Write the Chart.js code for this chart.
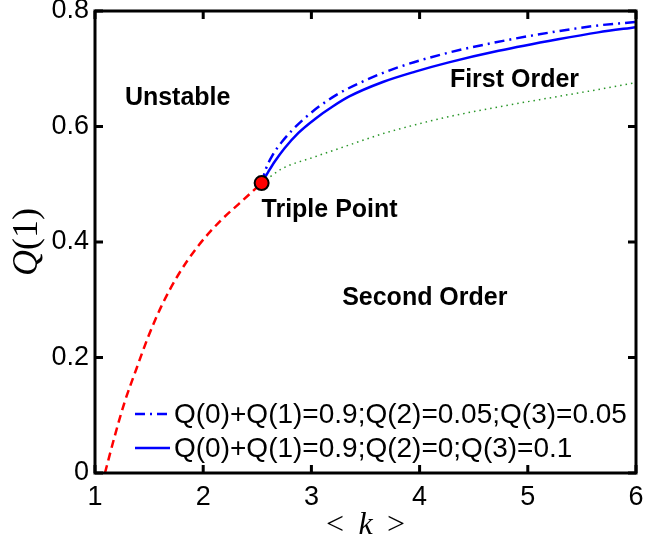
<!DOCTYPE html>
<html>
<head>
<meta charset="utf-8">
<script src="https://cdn.jsdelivr.net/npm/chart.js@4.4.0/dist/chart.umd.min.js"></script>
<style>
html,body{margin:0;padding:0;background:#fff;}
#wrap{width:645px;height:543px;position:relative;}
</style>
</head>
<body>
<div id="wrap"><canvas id="c"></canvas></div>
<script>
// ---- data ----
const xTicks = [1, 2, 3, 4, 5, 6];
const yTicks = [0, 0.2, 0.4, 0.6, 0.8];

const kRed = [1.092, 1.184, 1.276, 1.384, 1.49, 1.614, 1.766, 1.94, 2.15, 2.335, 2.54];
const qRed = [0, 0.065, 0.124, 0.181, 0.235, 0.289, 0.342, 0.39, 0.435, 0.467, 0.502];

const kSolid = [2.54, 2.6, 2.66, 2.75, 2.88, 3.04, 3.2, 3.35, 3.66, 3.96, 4.27, 4.73, 5.28, 5.65, 6.0];
const qSolid = [0.502, 0.521, 0.539, 0.562, 0.589, 0.614, 0.635, 0.652, 0.677, 0.695, 0.711, 0.731, 0.751, 0.763, 0.772];

const kDash = [2.54, 2.58, 2.64, 2.73, 2.93, 3.19, 3.5, 3.81, 4.27, 4.82, 5.28, 5.65, 6.0];
const qDash = [0.502, 0.527, 0.55, 0.574, 0.613, 0.65, 0.68, 0.703, 0.728, 0.75, 0.765, 0.775, 0.781];

const kGreen = [2.54, 2.73, 3.04, 3.35, 3.65, 3.96, 4.27, 4.73, 5.28, 5.65, 6.0];
const qGreen = [0.502, 0.527, 0.548, 0.568, 0.587, 0.603, 0.617, 0.634, 0.652, 0.664, 0.676];

const kTriple = [2.54];
const qTriple = [0.502];

const labelDash = 'Q(0)+Q(1)=0.9;Q(2)=0.05;Q(3)=0.05';
const labelSolid = 'Q(0)+Q(1)=0.9;Q(2)=0;Q(3)=0.1';

const notes = [
  {text: 'Unstable', k: 1.764, q: 0.650},
  {text: 'First Order', k: 4.877, q: 0.680},
  {text: 'Triple Point', k: 3.168, q: 0.455},
  {text: 'Second Order', k: 4.048, q: 0.302}
];

const pts = (xs, ys) => xs.map((x, i) => ({x: x, y: ys[i]}));

const framePlugin = {
  id: 'frame',
  afterDraw(chart) {
    const ctx = chart.ctx;
    const a = chart.chartArea;
    const xs = chart.scales.x, ys = chart.scales.y;
    ctx.save();
    ctx.strokeStyle = '#000';
    ctx.lineWidth = 3;
    ctx.lineCap = 'butt';
    const tl = 8;
    ctx.beginPath();
    xs.ticks.forEach(t => {
      const px = xs.getPixelForValue(t.value);
      ctx.moveTo(px, a.bottom); ctx.lineTo(px, a.bottom - tl);
      ctx.moveTo(px, a.top); ctx.lineTo(px, a.top + tl);
    });
    ys.ticks.forEach(t => {
      const py = ys.getPixelForValue(t.value);
      ctx.moveTo(a.left, py); ctx.lineTo(a.left + tl, py);
      ctx.moveTo(a.right, py); ctx.lineTo(a.right - tl, py);
    });
    ctx.stroke();
    ctx.lineJoin = 'miter';
    ctx.strokeRect(a.left, a.top, a.right - a.left, a.bottom - a.top);

    // annotations
    ctx.fillStyle = '#000';
    ctx.font = 'bold 25px "Liberation Sans", Arial, sans-serif';
    ctx.textAlign = 'center';
    ctx.textBaseline = 'middle';
    notes.forEach(n => {
      ctx.fillText(n.text, xs.getPixelForValue(n.k), ys.getPixelForValue(n.q));
    });

    // legend
    const legendItems = [chart.data.datasets[1], chart.data.datasets[2]];
    const rows = [414, 448];
    ctx.font = '28px "Liberation Sans", Arial, sans-serif';
    ctx.textAlign = 'left';
    legendItems.forEach((ds, i) => {
      const y = rows[i];
      ctx.save();
      ctx.strokeStyle = ds.borderColor;
      ctx.lineWidth = ds.borderWidth;
      ctx.setLineDash(ds.borderDash || []);
      ctx.beginPath();
      ctx.moveTo(135, y); ctx.lineTo(170, y);
      ctx.stroke();
      ctx.restore();
      ctx.fillStyle = '#000';
      ctx.fillText(ds.label, 174, y + 1);
    });

    // x axis title: < k >
    const serif = '"Liberation Serif", "Times New Roman", serif';
    const up = '32px ' + serif, it = 'italic 32px ' + serif;
    const parts = [['<', up], ['\u2009 ', up], ['k', it], [' \u2009', up], ['>', up]];
    let w = 0;
    parts.forEach(p => { ctx.font = p[1]; w += ctx.measureText(p[0]).width; });
    let x = (a.left + a.right) / 2 - w / 2;
    ctx.textBaseline = 'alphabetic';
    parts.forEach(p => { ctx.font = p[1]; ctx.fillText(p[0], x, 534); x += ctx.measureText(p[0]).width; });

    // y axis title: Q(1)
    ctx.save();
    ctx.translate(37, 242);
    ctx.rotate(-Math.PI / 2);
    const yp = [['Q', 'italic 36px ' + serif], ['(1)', '36px ' + serif]];
    w = 0;
    yp.forEach(p => { ctx.font = p[1]; w += ctx.measureText(p[0]).width; });
    x = -w / 2;
    yp.forEach(p => { ctx.font = p[1]; ctx.fillText(p[0], x, 0); x += ctx.measureText(p[0]).width; });
    ctx.restore();
    ctx.restore();
  }
};

new Chart(document.getElementById('c'), {
  type: 'line',
  data: {
    datasets: [
      {label: 'Triple Point', data: pts(kTriple, qTriple), showLine: false,
       pointRadius: 7, pointBackgroundColor: '#ff0000', pointBorderColor: '#000', pointBorderWidth: 2},
      {label: labelDash, data: pts(kDash, qDash), borderColor: '#0000ff', borderWidth: 2.5,
       borderDash: [10, 5, 2, 5], pointRadius: 0, cubicInterpolationMode: 'monotone'},
      {label: labelSolid, data: pts(kSolid, qSolid), borderColor: '#0000ff', borderWidth: 2.5,
       pointRadius: 0, cubicInterpolationMode: 'monotone'},
      {label: 'second order line', data: pts(kGreen, qGreen), borderColor: 'rgb(40,150,40)', borderWidth: 1.5,
       borderDash: [1.5, 4], pointRadius: 0, cubicInterpolationMode: 'monotone'},
      {label: 'unstable boundary', data: pts(kRed, qRed), borderColor: '#ff0000', borderWidth: 2.5,
       borderDash: [8, 5], pointRadius: 0, cubicInterpolationMode: 'monotone'}
    ]
  },
  options: {
    responsive: true,
    maintainAspectRatio: false,
    animation: false,
    layout: {padding: {left: 0, right: 7, top: 11, bottom: 0}},
    plugins: {legend: {display: false}, tooltip: {enabled: false}},
    scales: {
      x: {
        type: 'linear', min: 1, max: 6,
        afterBuildTicks: s => { s.ticks = xTicks.map(v => ({value: v})); },
        afterFit: s => { s.height = 70; s.paddingLeft = 0; s.paddingRight = 0; },
        grid: {display: false, drawTicks: false},
        border: {display: false},
        ticks: {padding: 8, color: '#000', font: {family: '"Liberation Sans", Arial, sans-serif', size: 27},
                callback: v => String(v)}
      },
      y: {
        type: 'linear', min: 0, max: 0.8,
        afterBuildTicks: s => { s.ticks = yTicks.map(v => ({value: v})); },
        afterFit: s => { s.width = 95; s.paddingTop = 0; s.paddingBottom = 0; },
        grid: {display: false, drawTicks: false},
        border: {display: false},
        ticks: {padding: 6, color: '#000', font: {family: '"Liberation Sans", Arial, sans-serif', size: 27},
                callback: v => String(Number(v.toFixed(1)))}
      }
    }
  },
  plugins: [framePlugin]
});
</script>
</body>
</html>
